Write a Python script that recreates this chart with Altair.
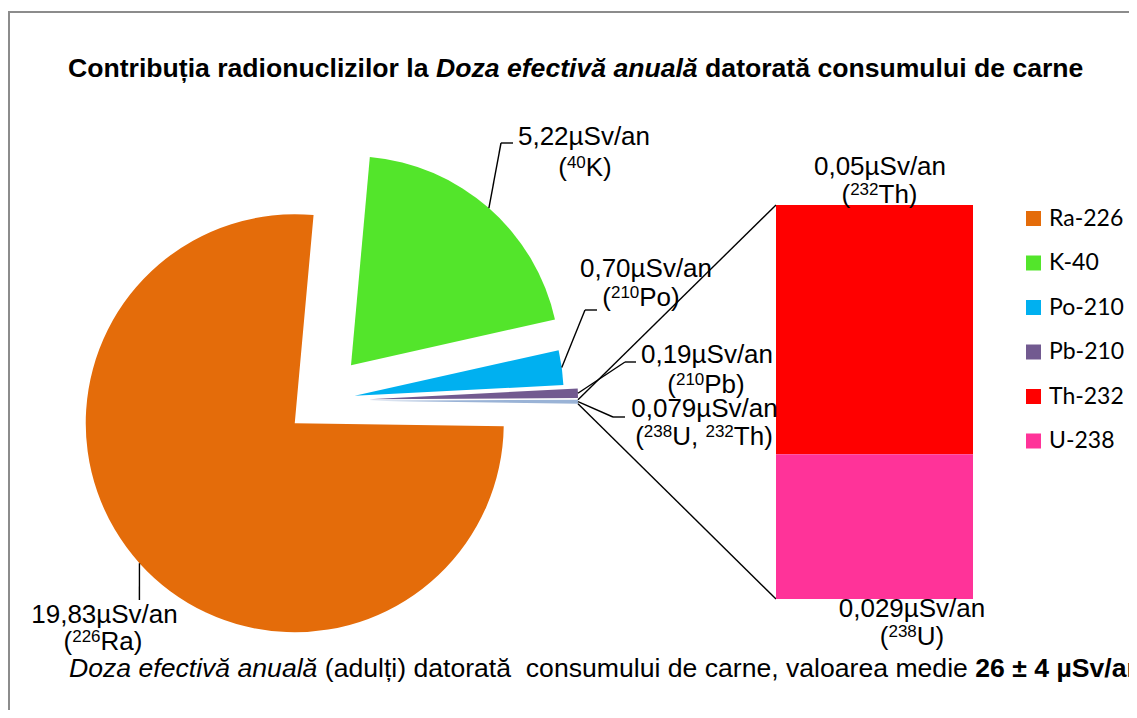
import math
import altair as alt
import pandas as pd

# ---------------- data ----------------
pie_names = ["Ra-226", "K-40", "Po-210", "Pb-210"]
pie_values = [19.83, 5.22, 0.70, 0.19]
bar_names = ["Th-232", "U-238"]
bar_values = [0.05, 0.029]
other_name = "Altele"
pie_labels = ["19,83µSv/an", "5,22µSv/an", "0,70µSv/an", "0,19µSv/an", "0,079µSv/an"]
bar_labels = ["0,05µSv/an", "0,029µSv/an"]
legend_names = ["Ra-226", "K-40", "Po-210", "Pb-210", "Th-232", "U-238"]
title_parts = ["Contribuția radionuclizilor la", "Doza efectivă anuală", "datorată consumului de carne"]
caption_parts = ["Doza efectivă anuală", "(adulți) datorată\u00a0 consumului de carne, valoarea medie", "26 ± 4 µSv/an"]

# ---------------- styles / layout ----------------
COLORS = {"Ra-226": "#E46C0A", "K-40": "#53E52B", "Po-210": "#00B0F0", "Pb-210": "#725A90",
          "Th-232": "#FF0000", "U-238": "#FF3399", "Altele": "#9AB3D6"}
FONT = "Liberation Sans"
FS = 26
SUP = 17
RAISE = 8
TFS = 26.6
CFS = 26.6
CX, CY, R = 312, 392.5, 209
A0 = math.radians(90.8)
EXPLODE = {"Ra-226": 34, "K-40": 47, "Po-210": 35, "Pb-210": 49, "Altele": 49}
LEADER = {"Ra-226": (131.4, 592, 131.4, 592), "K-40": (493, 135, 505, 135),
          "Po-210": (577, 302, 589, 302), "Pb-210": (617, 354, 628, 354),
          "Altele": (605, 409, 617, 409)}
LABEL_POS = {"Ra-226": (96.5, 615, 95, 642), "K-40": (576, 137, 577, 168),
             "Po-210": (638, 269, 633, 298), "Pb-210": (699, 355, 698, 385),
             "Altele": (696.5, 409, 696, 437), "Th-232": (872, 167, 871.5, 195),
             "U-238": (904, 609, 904, 637)}
BAR_X0, BAR_X1, BAR_TOP, BAR_BOT = 768, 965, 197, 591
W, H = 1121, 702

REG = {' ': 278, '\u00a0': 278, '(': 333, ')': 333, ',': 278, '-': 333, '/': 278, '±': 549, 'µ': 576,
       'a': 556, 'b': 556, 'c': 500, 'd': 556, 'e': 556, 'f': 278, 'g': 556, 'h': 556, 'i': 222,
       'j': 222, 'k': 500, 'l': 222, 'm': 833, 'n': 556, 'o': 556, 'p': 556, 'q': 556, 'r': 333,
       's': 500, 't': 278, 'u': 556, 'v': 500, 'w': 722, 'x': 500, 'y': 500, 'z': 500, 'ă': 556,
       'ț': 278, 'C': 722, 'D': 722, 'K': 667, 'P': 667, 'R': 722, 'S': 667, 'T': 611, 'U': 722}
BOLD = {' ': 278, '(': 333, ')': 333, ',': 278, '-': 333, '/': 278, '±': 549, 'µ': 611,
        'a': 556, 'b': 611, 'c': 556, 'd': 611, 'e': 556, 'f': 333, 'g': 611, 'h': 611, 'i': 278,
        'j': 278, 'k': 556, 'l': 278, 'm': 889, 'n': 611, 'o': 611, 'p': 611, 'q': 611, 'r': 389,
        's': 556, 't': 333, 'u': 611, 'v': 556, 'w': 778, 'x': 556, 'y': 556, 'z': 500, 'ă': 556,
        'ț': 333, 'C': 722, 'D': 722, 'S': 667}
for d in "0123456789":
    REG[d] = 556
    BOLD[d] = 556


def tw(text, size, bold=False):
    tab = BOLD if bold else REG
    return sum(tab.get(ch, 556) for ch in text) * size / 1000.0


# ---------------- tables ----------------
all_pie_names = pie_names + [other_name]
pie_df = pd.DataFrame({
    "name": all_pie_names,
    "value": pie_values + [round(sum(bar_values), 4)],
    "order": list(range(len(all_pie_names))),
})
pie_df["explode"] = [EXPLODE[n] for n in pie_df["name"]]
pie_df["ex"] = [LEADER[n][0] for n in pie_df["name"]]
pie_df["ey"] = [LEADER[n][1] for n in pie_df["name"]]
pie_df["tx"] = [LEADER[n][2] for n in pie_df["name"]]
pie_df["ty"] = [LEADER[n][3] for n in pie_df["name"]]

# stacking order: U-238 at the bottom, Th-232 on top
bar_df = pd.DataFrame({"name": bar_names, "value": bar_values, "order": [1, 0]})


def iso_pieces(name):
    sym, mass = name.split("-")
    return [(mass, 1), (sym, 0)]


line1_rows, reg_rows, sup_rows = [], [], []
label_text = dict(zip(all_pie_names, pie_labels))
label_text.update(dict(zip(bar_names, bar_labels)))
for name, (x1, y1, x2, y2) in LABEL_POS.items():
    line1_rows.append({"text": label_text[name], "x": x1, "y": y1})
    if name == other_name:
        pieces = [("(", 0)] + iso_pieces(bar_names[1]) + [(", ", 0)] + iso_pieces(bar_names[0]) + [(")", 0)]
    else:
        pieces = [("(", 0)] + iso_pieces(name) + [(")", 0)]
    widths = [tw(t, SUP if s else FS) for t, s in pieces]
    x = x2 - sum(widths) / 2
    for (t, s), w in zip(pieces, widths):
        if s:
            sup_rows.append({"text": t, "x": x, "y": y2 - RAISE})
        else:
            reg_rows.append({"text": t, "x": x, "y": y2})
        x += w

# title pieces
tx0, ty = 60, 69
t_pos = [tx0]
t_pos.append(t_pos[0] + tw(title_parts[0] + " ", TFS, True))
t_pos.append(t_pos[1] + tw(title_parts[1] + " ", TFS, True))
title_bold = pd.DataFrame({"text": [title_parts[0], title_parts[2]], "x": [t_pos[0], t_pos[2]], "y": [ty, ty]})
title_ital = pd.DataFrame({"text": [title_parts[1]], "x": [t_pos[1]], "y": [ty]})

# caption pieces
cx0, cy0 = 61, 669
c_pos = [cx0]
c_pos.append(c_pos[0] + tw(caption_parts[0] + " ", CFS))
c_pos.append(c_pos[1] + tw(caption_parts[1] + " ", CFS))
cap_ital = pd.DataFrame({"text": [caption_parts[0]], "x": [c_pos[0]], "y": [cy0]})
cap_reg = pd.DataFrame({"text": [caption_parts[1]], "x": [c_pos[1]], "y": [cy0]})
cap_bold = pd.DataFrame({"text": [caption_parts[2]], "x": [c_pos[2]], "y": [cy0]})

# ---------------- chart ----------------
color_scale = alt.Scale(domain=legend_names + [other_name], range=[COLORS[n] for n in legend_names + [other_name]])
legend = alt.Legend(orient="none", legendX=1014, legendY=199, direction="vertical", title=None,
                    values=legend_names, symbolType="square", symbolSize=225, symbolStrokeWidth=0,
                    symbolOpacity=1, labelFont="Lato", labelFontSize=23, labelColor="black",
                    labelOffset=4, rowPadding=20.5, padding=0, labelLimit=200)
color = alt.Color("name:N", scale=color_scale, legend=legend)

base = (
    alt.Chart(pie_df)
    .transform_joinaggregate(total="sum(value)")
    .transform_window(cum="sum(value)", sort=[alt.SortField("order")], frame=[None, 0])
    .transform_calculate(a0=f"{A0} + 2*PI*(datum.cum - datum.value)/datum.total")
    .transform_calculate(a1=f"{A0} + 2*PI*datum.cum/datum.total")
    .transform_calculate(mid="(datum.a0 + datum.a1)/2")
    .transform_calculate(cx=f"{CX} + datum.explode*sin(datum.mid)")
    .transform_calculate(cy=f"{CY} - datum.explode*cos(datum.mid)")
    .transform_calculate(ax=f"datum.cx + {R}*sin(datum.mid)")
    .transform_calculate(ay=f"datum.cy - {R}*cos(datum.mid)")
)

pie = base.mark_arc(radius=R).encode(
    theta=alt.Theta("a0:Q", scale=None, stack=None),
    theta2=alt.Theta2("a1:Q"),
    x=alt.X("cx:Q", scale=None),
    y=alt.Y("cy:Q", scale=None),
    color=color,
)

lead1 = base.mark_rule(color="black", strokeWidth=1.4).encode(
    x=alt.X("ax:Q", scale=None), y=alt.Y("ay:Q", scale=None),
    x2=alt.X2("ex:Q"), y2=alt.Y2("ey:Q"))
lead2 = base.mark_rule(color="black", strokeWidth=1.4).encode(
    x=alt.X("ex:Q", scale=None), y=alt.Y("ey:Q", scale=None),
    x2=alt.X2("tx:Q"), y2=alt.Y2("ty:Q"))

other = (base.transform_filter(f"datum.name == '{other_name}'")
         .transform_calculate(px0=f"datum.cx + {R}*sin(datum.a0)")
         .transform_calculate(py0=f"datum.cy - {R}*cos(datum.a0)")
         .transform_calculate(px1=f"datum.cx + {R}*sin(datum.a1)")
         .transform_calculate(py1=f"datum.cy - {R}*cos(datum.a1)"))
conn_top = other.mark_rule(color="black", strokeWidth=1.4).encode(
    x=alt.X("px0:Q", scale=None), y=alt.Y("py0:Q", scale=None),
    x2=alt.value(BAR_X0), y2=alt.value(BAR_TOP))
conn_bot = other.mark_rule(color="black", strokeWidth=1.4).encode(
    x=alt.X("px1:Q", scale=None), y=alt.Y("py1:Q", scale=None),
    x2=alt.value(BAR_X0), y2=alt.value(BAR_BOT))

bar = (
    alt.Chart(bar_df)
    .transform_window(cum="sum(value)", sort=[alt.SortField("order")], frame=[None, 0])
    .transform_calculate(v0="datum.cum - datum.value")
    .mark_rect()
    .encode(
        x=alt.value(BAR_X0), x2=alt.value(BAR_X1),
        y=alt.Y("v0:Q", axis=None,
                scale=alt.Scale(domain=[0, sum(bar_values)], range=[BAR_BOT, BAR_TOP], nice=False, zero=True)),
        y2=alt.Y2("cum:Q"),
        color=color,
    )
)


def text_layer(df, **kw):
    return alt.Chart(pd.DataFrame(df)).mark_text(baseline="alphabetic", font=FONT, color="black", **kw).encode(
        x=alt.X("x:Q", scale=None), y=alt.Y("y:Q", scale=None), text="text:N")


t_line1 = text_layer(line1_rows, align="center", fontSize=FS)
t_reg = text_layer(reg_rows, align="left", fontSize=FS)
t_sup = text_layer(sup_rows, align="left", fontSize=SUP)
t_title_b = text_layer(title_bold, align="left", fontSize=TFS, fontWeight="bold")
t_title_i = text_layer(title_ital, align="left", fontSize=TFS, fontWeight="bold", fontStyle="italic")
t_cap_i = text_layer(cap_ital, align="left", fontSize=CFS, fontStyle="italic")
t_cap_r = text_layer(cap_reg, align="left", fontSize=CFS)
t_cap_b = text_layer(cap_bold, align="left", fontSize=CFS, fontWeight="bold")

frame_df = pd.DataFrame({"k": [0]})
frame_left = alt.Chart(frame_df).mark_rule(color="#8c8c8c", strokeWidth=2).encode(
    x=alt.value(1), y=alt.value(3), y2=alt.value(H))
frame_top = alt.Chart(frame_df).mark_rule(color="#8c8c8c", strokeWidth=2).encode(
    x=alt.value(0), x2=alt.value(W), y=alt.value(4))

chart = alt.layer(
    frame_left, frame_top, pie, lead1, lead2, conn_top, conn_bot, bar,
    t_line1, t_reg, t_sup, t_title_b, t_title_i, t_cap_i, t_cap_r, t_cap_b,
).resolve_scale(y="independent", x="independent").properties(
    width=W, height=H, padding=0, autosize=alt.AutoSizeParams(type="none"),
    background="white",
).configure_view(stroke=None)

chart.save("out.html", embed_options={"renderer": "svg", "actions": False})
